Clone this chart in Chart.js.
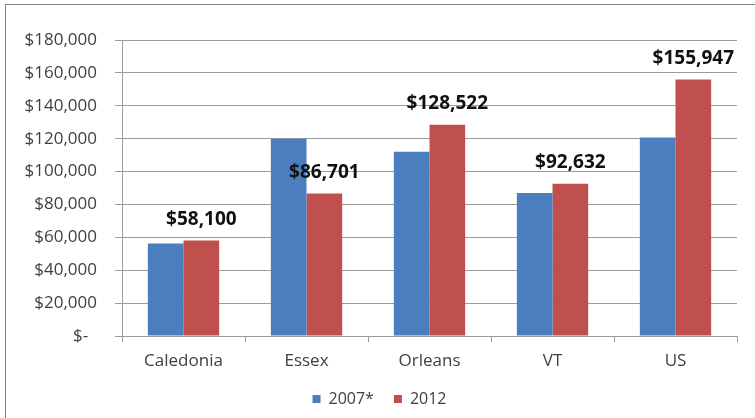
<!DOCTYPE html>
<html>
<head>
<meta charset="utf-8">
<script src="https://cdn.jsdelivr.net/npm/chart.js@4.4.0/dist/chart.umd.min.js"></script>
<style>
    html, body { margin: 0; padding: 0; background: #ffffff; overflow: hidden; }
    #frame {
        position: absolute;
        left: 5px; top: 4px;
        width: 800px; height: 460px;
        border-top: 1px solid #7f7f7f;
        border-left: 1px solid #7f7f7f;
    }
    canvas { position: absolute; left: 0; top: 0; display: block; }
</style>
</head>
<body>
<div id="frame"></div>
<canvas id="chart" width="755" height="418"></canvas>
<script>
const categories = ['Caledonia', 'Essex', 'Orleans', 'VT', 'US'];
const values2007 = [56200, 120000, 112000, 87000, 120700];
const values2012 = [58100, 86701, 128522, 92632, 155947];
const yTicks = [0, 20000, 40000, 60000, 80000, 100000, 120000, 140000, 160000, 180000];

const BLUE = '#4a7ebf';
const RED = '#c0504d';
const TEXT = '#404040';
const LINE = '#a09a9a';
const FONT = "'Open Sans', sans-serif";

const money = (v) => v === 0 ? '$-  ' : '$' + v.toLocaleString('en-US');

// prints the 2012 value above each red bar
const valueLabels = {
    id: 'valueLabels',
    afterDatasetsDraw(chart) {
        const ctx = chart.ctx;
        const meta = chart.getDatasetMeta(1);
        ctx.save();
        ctx.font = "bold 19px " + FONT;
        ctx.fillStyle = '#111111';
        ctx.textAlign = 'center';
        ctx.textBaseline = 'middle';
        meta.data.forEach((bar, i) => {
            ctx.fillText(money(values2012[i]), bar.x, bar.y - 21);
        });
        ctx.restore();
    }
};

new Chart(document.getElementById('chart'), {
    type: 'bar',
    data: {
        labels: categories,
        datasets: [
            { label: '2007*', data: values2007, backgroundColor: BLUE },
            { label: '2012', data: values2012, backgroundColor: RED }
        ]
    },
    options: {
        responsive: false,
        animation: false,
        layout: { padding: { top: 40, right: 18, bottom: 1, left: 22 } },
        datasets: {
            bar: { categoryPercentage: 0.58, barPercentage: 1.0 }
        },
        plugins: {
            legend: {
                position: 'bottom',
                labels: {
                    boxWidth: 8,
                    boxHeight: 8,
                    padding: 20,
                    color: TEXT,
                    font: { family: FONT, size: 16 }
                }
            },
            tooltip: { enabled: false }
        },
        scales: {
            x: {
                grid: {
                    drawOnChartArea: false,
                    drawTicks: true,
                    tickLength: 6,
                    color: LINE
                },
                border: { color: LINE },
                ticks: {
                    color: TEXT,
                    padding: 9,
                    font: { family: FONT, size: 17 }
                },
                afterFit(scale) { scale.height = 35; }
            },
            y: {
                min: 0,
                max: 180000,
                afterBuildTicks(scale) {
                    scale.ticks = yTicks.map(v => ({ value: v }));
                },
                grid: {
                    color: LINE,
                    tickLength: 7
                },
                border: { color: LINE },
                ticks: {
                    color: TEXT,
                    padding: 18,
                    font: { family: FONT, size: 17 },
                    callback: (v) => money(v)
                },
                afterFit(scale) { scale.width = 100; }
            }
        }
    },
    plugins: [valueLabels]
});
</script>
</body>
</html>
